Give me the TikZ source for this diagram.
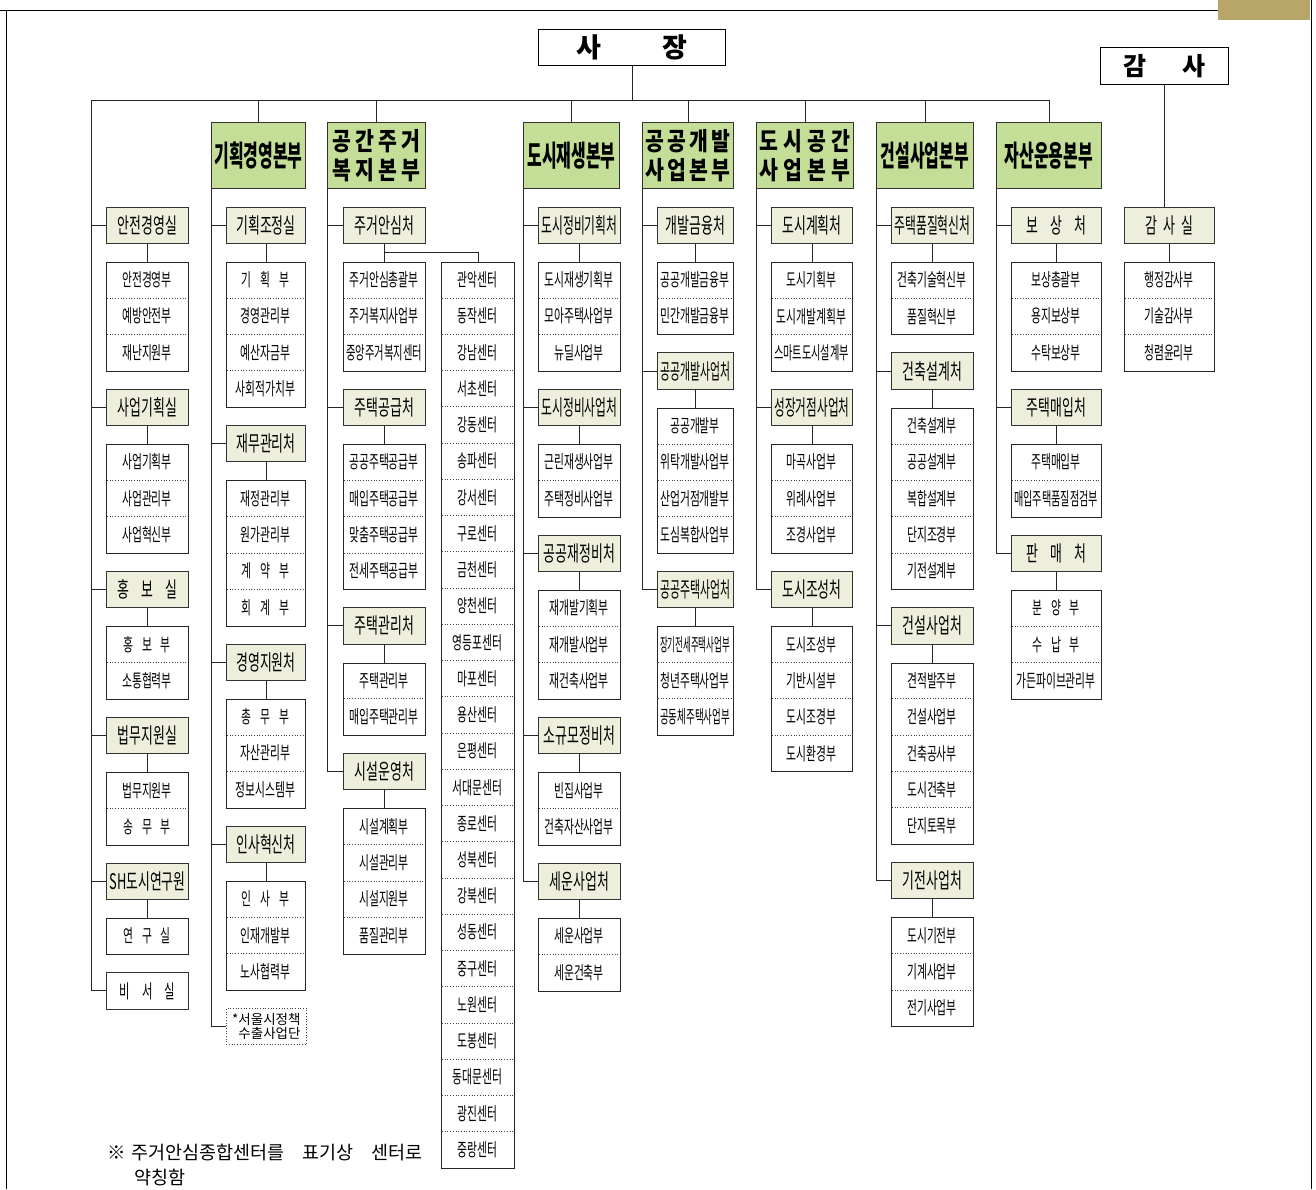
\documentclass[tikz,border=0pt]{standalone}
\usepackage{fontspec}
\usepackage{graphicx}
\usetikzlibrary{calc}
\newfontfamily\krd[FakeStretch=0.6]{Noto Sans CJK KR}
\newfontfamily\krh[FakeStretch=0.55]{Noto Sans CJK KR}
\newfontfamily\krw[FakeStretch=0.82]{Noto Sans CJK KR}
\newfontfamily\krn{Noto Sans CJK KR}
\definecolor{hqgreen}{RGB}{196,222,151}
\definecolor{chufill}{RGB}{238,238,220}
\definecolor{tanbar}{RGB}{184,166,104}
\newsavebox\fitbox
\newcommand\fitw[2]{\sbox\fitbox{#2}\ifdim\wd\fitbox>#1pt\relax\resizebox{#1pt}{\height}{\usebox\fitbox}\else\usebox\fitbox\fi}
\newcommand\gp{\hspace{9pt}}
\newcommand\gq{\hspace{12pt}}
\tikzset{
  conn/.style={draw=black!85, line width=0.9pt},
  hqbox/.style={draw=black!80, line width=0.9pt, fill=hqgreen, minimum height=66, inner sep=0, anchor=north west, align=center},
  hqone/.style={hqbox, font=\krh\bfseries\fontsize{29}{29}\selectfont},
  hqtwo/.style={hqbox, font=\krw\bfseries\fontsize{25}{29}\selectfont},
  chubox/.style={draw=black!80, line width=0.9pt, fill=chufill, minimum height=36.3, inner sep=0, anchor=north west, font=\krd\fontsize{21.5}{21.5}\selectfont},
  whitebox/.style={chubox, fill=white, font=\krd\fontsize{19}{19}\selectfont},
  deptbox/.style={draw=black!85, line width=0.9pt, fill=white, inner sep=0, anchor=north west},
  rowtxt/.style={inner sep=0, font=\krd\fontsize{18}{18}\selectfont},
  sepline/.style={draw=black!75, line width=0.7pt, dotted},
  topbox/.style={draw=black, line width=0.9pt, fill=white, inner sep=0, anchor=north west, font=\krn\bfseries\fontsize{27}{27}\selectfont},
  notebox/.style={draw=black!75, line width=0.7pt, dotted, fill=white, inner sep=1pt, anchor=north west, minimum height=36.3, align=right, font=\krn\fontsize{13.5}{14.5}\selectfont},
}
\newcommand\setcol[2]{\xdef\colx{#1}\xdef\colw{#2}\xdef\cy{206.5}\pgfmathsetmacro\fwtmp{#2-6}\xdef\fw{\fwtmp}}
\newcommand\chubase[3]{%
  \node[#1, minimum width=\colw] (#2) at (\colx,\cy) {\fitw{\fw}{#3}};
  \coordinate (lastc) at (#2.west);
  \coordinate (lastcs) at (#2.south);
  \pgfmathsetmacro\tmp{\cy+36.3+19}\xdef\cy{\tmp}}
\newcommand\chu[3][chubox]{%
  \chubase{#1}{#2}{#3}
  \draw[conn] (#2.west) -- (#2.west -| trk);}
\newcommand\dept[2]{%
  \foreach[count=\nn] \rt in {#2}{\xdef\nrows{\nn}}%
  \pgfmathsetmacro\hh{\nrows*36.3}%
  \node[deptbox, minimum width=\colw, minimum height=\hh] (#1) at (\colx,\cy) {};
  \foreach[count=\ri] \rt in {#2}{\node[rowtxt] (#1-\ri) at (\colx+\colw/2,\cy+\ri*36.3-18.15) {\fitw{\fw}{\rt}};}
  \ifnum\nrows>1 \foreach \ri in {2,...,\nrows}{\draw[sepline] (\colx+1,\cy+\ri*36.3-36.3) -- (\colx+\colw-1,\cy+\ri*36.3-36.3);}\fi
  \draw[conn] (lastcs) -- (#1.north);
  \pgfmathsetmacro\tmp{\cy+\hh+18}\xdef\cy{\tmp}}
\begin{document}
\begin{tikzpicture}[x=1pt,y=-1pt]
\useasboundingbox (0,0) rectangle (1316,1189);
\fill[white] (0,0) rectangle (1316,1189);
% frame
\fill[tanbar] (1218,0) rectangle (1310,20);
\draw[line width=1pt] (0,10) -- (1218,10);
\draw[line width=1pt] (6,10) -- (6,1189);
\draw[line width=1pt] (1311,0) -- (1311,1189);
% top
\node[topbox, minimum width=187, minimum height=36] (ceo) at (538,29) {사\hspace{62pt}장};
\node[topbox, minimum width=128, minimum height=37, font=\krn\bfseries\fontsize{25}{25}\selectfont] (audit) at (1100,47) {감\hspace{36pt}사};
% headquarters
\node[hqone, minimum width=94] (hq1) at (211,122) {\fitw{91}{기획경영본부}};
\node[hqtwo, minimum width=98] (hq2) at (327,122) {\makebox[88pt][s]{공\hfill 간\hfill 주\hfill 거}\\\makebox[88pt][s]{복\hfill 지\hfill 본\hfill 부}};
\node[hqone, minimum width=96] (hq3) at (523,122) {\fitw{92}{도시재생본부}};
\node[hqtwo, minimum width=91] (hq4) at (642,122) {\makebox[84pt][s]{공\hfill 공\hfill 개\hfill 발}\\\makebox[84pt][s]{사\hfill 업\hfill 본\hfill 부}};
\node[hqtwo, minimum width=97] (hq5) at (756,122) {\makebox[90pt][s]{도\hfill 시\hfill 공\hfill 간}\\\makebox[90pt][s]{사\hfill 업\hfill 본\hfill 부}};
\node[hqone, minimum width=97] (hq6) at (876,122) {\fitw{93}{건설사업본부}};
\node[hqone, minimum width=105] (hq7) at (996,122) {\fitw{99}{자산운용본부}};
% bus
\coordinate (busL) at (91,100);
\draw[conn] (busL) -- (hq7.north |- busL);
\draw[conn] (ceo.south) -- (ceo.south |- busL);
\foreach \h in {hq1,hq2,hq3,hq4,hq5,hq6,hq7} \draw[conn] (\h.north) -- (\h.north |- busL);
% Column A
\coordinate (trk) at (busL);
\setcol{106}{82}
\chu{aa}{안전경영실}
\dept{aad}{안전경영부,예방안전부,재난지원부}
\chu{ab}{사업기획실}
\dept{abd}{사업기획부,사업관리부,사업혁신부}
\chu{ac}{홍\gq 보\gq 실}
\dept{acd}{홍\gp 보\gp 부,소통협력부}
\chu{ae}{법무지원실}
\dept{aed}{법무지원부,송\gp 무\gp 부}
\chu{af}{SH도시연구원}
\dept{afd}{연\gp 구\gp 실}
\chu[whitebox]{ag}{비\gq 서\gq 실}
\draw[conn] (trk) -- (lastc -| trk);
% Column B
\coordinate (trk) at (hq1.south west);
\setcol{226}{79}
\chu{ba}{기획조정실}
\dept{bad}{기\gp 획\gp 부,경영관리부,예산자금부,사회적가치부}
\chu{bb}{재무관리처}
\dept{bbd}{재정관리부,원가관리부,계\gp 약\gp 부,회\gp 계\gp 부}
\chu{bc}{경영지원처}
\dept{bcd}{총\gp 무\gp 부,자산관리부,정보시스템부}
\chu{be}{인사혁신처}
\dept{bed}{인\gp 사\gp 부,인재개발부,노사협력부}
\node[notebox, minimum width=80] (bf) at (\colx,\cy) {*서울시정책\\수출사업단};
\draw[conn] (trk) -- (bf.west -| trk);
\draw[conn, line width=1.5pt] (bf.west) -- (bf.west -| trk);
% Column C
\coordinate (trk) at (hq2.south west);
\setcol{343}{82}
\chu{ca}{주거안심처}
\dept{cad}{주거안심총괄부,주거복지사업부,중앙주거복지센터}
\chu{cb}{주택공급처}
\dept{cbd}{공공주택공급부,매입주택공급부,맞춤주택공급부,전세주택공급부}
\chu{cc}{주택관리처}
\dept{ccd}{주택관리부,매입주택관리부}
\chu{ce}{시설운영처}
\dept{ced}{시설계획부,시설관리부,시설지원부,품질관리부}
\draw[conn] (trk) -- (lastc -| trk);
% centres
\node[deptbox, minimum width=73, minimum height=906] (ctr) at (441,261.8) {};
\foreach[count=\ri] \rt in {관악센터,동작센터,강남센터,서초센터,강동센터,송파센터,강서센터,구로센터,금천센터,양천센터,영등포센터,마포센터,용산센터,은평센터,서대문센터,종로센터,성북센터,강북센터,성동센터,중구센터,노원센터,도봉센터,동대문센터,광진센터,중랑센터}
  {\node[rowtxt] (ctr-\ri) at (477.5,261.8+\ri*36.24-18.12) {\fitw{66}{\rt}};}
\foreach \ri in {1,...,24} \draw[sepline] (442,261.8+\ri*36.24) -- (513,261.8+\ri*36.24);
\coordinate (cam) at ($(ca.south)!0.5!(cad.north)$);
\draw[conn] (cam) -| (ctr.north);
% Column D
\coordinate (trk) at (hq3.south west);
\setcol{538}{82}
\chu{da}{도시정비기획처}
\dept{dad}{도시재생기획부,모아주택사업부,뉴딜사업부}
\chu{db}{도시정비사업처}
\dept{dbd}{근린재생사업부,주택정비사업부}
\chu{dc}{공공재정비처}
\dept{dcd}{재개발기획부,재개발사업부,재건축사업부}
\chu{de}{소규모정비처}
\dept{ded}{빈집사업부,건축자산사업부}
\chu{df}{세운사업처}
\dept{dfd}{세운사업부,세운건축부}
\draw[conn] (trk) -- (lastc -| trk);
% Column E
\coordinate (trk) at (hq4.south west);
\setcol{657}{76}
\chu{ea}{개발금융처}
\dept{ead}{공공개발금융부,민간개발금융부}
\chu{eb}{공공개발사업처}
\dept{ebd}{공공개발부,위탁개발사업부,산업거점개발부,도심복합사업부}
\chu{ec}{공공주택사업처}
\dept{ecd}{장기전세주택사업부,청년주택사업부,공동체주택사업부}
\draw[conn] (trk) -- (lastc -| trk);
% Column F
\coordinate (trk) at (hq5.south west);
\setcol{771}{81}
\chu{fa}{도시계획처}
\dept{fad}{도시기획부,도시개발계획부,스마트도시설계부}
\chu{fb}{성장거점사업처}
\dept{fbd}{마곡사업부,위례사업부,조경사업부}
\chu{fc}{도시조성처}
\dept{fcd}{도시조성부,기반시설부,도시조경부,도시환경부}
\draw[conn] (trk) -- (lastc -| trk);
% Column G
\coordinate (trk) at (hq6.south west);
\setcol{891}{82}
\chu{ga}{주택품질혁신처}
\dept{gad}{건축기술혁신부,품질혁신부}
\chu{gb}{건축설계처}
\dept{gbd}{건축설계부,공공설계부,복합설계부,단지조경부,기전설계부}
\chu{gc}{건설사업처}
\dept{gcd}{견적발주부,건설사업부,건축공사부,도시건축부,단지토목부}
\chu{ge}{기전사업처}
\dept{ged}{도시기전부,기계사업부,전기사업부}
\draw[conn] (trk) -- (lastc -| trk);
% Column H
\coordinate (trk) at (hq7.south west);
\setcol{1011}{90}
\chu{ha}{보\gq 상\gq 처}
\dept{had}{보상총괄부,용지보상부,수탁보상부}
\chu{hb}{주택매입처}
\dept{hbd}{주택매입부,매입주택품질점검부}
\chu{hc}{판\gq 매\gq 처}
\dept{hcd}{분\gp 양\gp 부,수\gp 납\gp 부,가든파이브관리부}
\draw[conn] (trk) -- (lastc -| trk);
% Column I
\setcol{1124}{90}
\chubase{chubox}{ia}{감\hspace{6pt}사\hspace{6pt}실}
\dept{iad}{행정감사부,기술감사부,청렴윤리부}
\draw[conn] (audit.south) -- (audit.south |- ia.north);
% note
\node[anchor=west, inner sep=0, font=\krn\fontsize{18.5}{18.5}\selectfont] (note1) at (107,1152) {※\hspace{6pt}주거안심종합센터를\hspace{18pt}표기상\hspace{18pt}센터로};
\node[anchor=west, inner sep=0, font=\krn\fontsize{18.5}{18.5}\selectfont] (note2) at (134,1177) {약칭함};
\end{tikzpicture}
\end{document}
